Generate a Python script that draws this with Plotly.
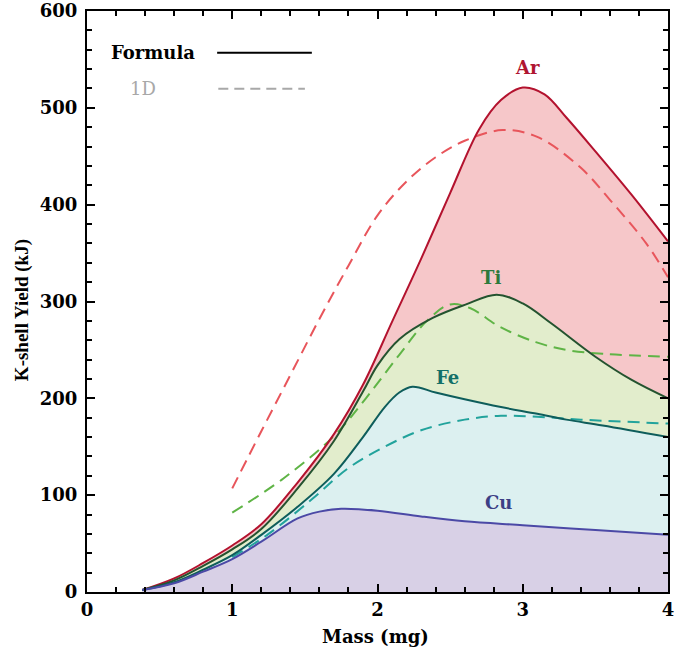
import plotly.graph_objects as go

# ---------------- data ----------------
mass_ar = [0.38, 0.6, 0.8, 1.0, 1.2, 1.45, 1.7, 1.9, 2.1, 2.3, 2.5, 2.7, 2.85, 3.0, 3.15, 3.3, 3.5, 3.75, 4.0]
ar_formula = [2, 14, 30, 48, 70, 113, 163, 214, 279, 344, 412, 478, 508, 521, 514, 490, 455, 410, 362]

mass_ti = [0.38, 0.6, 0.8, 1.0, 1.2, 1.45, 1.7, 1.9, 2.0, 2.15, 2.38, 2.61, 2.82, 3.0, 3.2, 3.5, 3.75, 4.0]
ti_formula = [2, 12, 27, 44, 65, 107, 156, 207, 234, 261, 283, 297, 307, 298, 277, 243, 219, 200]

mass_fe = [0.38, 0.6, 0.8, 1.0, 1.2, 1.45, 1.7, 1.9, 2.05, 2.15, 2.24, 2.4, 2.6, 2.85, 3.1, 3.3, 3.55, 4.0]
fe_formula = [2, 10, 23, 38, 59, 88, 122, 160, 191, 206, 212, 206, 199, 191, 184, 178, 172, 160]

mass_cu = [0.38, 0.6, 0.8, 1.0, 1.2, 1.45, 1.6, 1.75, 2.0, 2.3, 2.6, 3.0, 3.5, 4.0]
cu_formula = [2, 9, 21, 34, 52, 76, 83, 86, 84, 78, 73, 69, 64, 59]

mass_ar_1d = [1.0, 1.2, 1.4, 1.6, 1.8, 2.0, 2.2, 2.4, 2.6, 2.86, 3.1, 3.4, 3.6, 3.85, 4.0]
ar_1d = [107, 166, 224, 282, 337, 389, 424, 449, 466, 477, 470, 438, 405, 360, 325]

mass_ti_1d = [1.0, 1.35, 1.7, 1.92, 2.15, 2.34, 2.5, 2.64, 2.84, 3.09, 3.3, 3.55, 4.0]
ti_1d = [82, 117, 161, 200, 245, 280, 297, 293, 274, 258, 250, 246, 243]

mass_fe_1d = [1.0, 1.25, 1.55, 1.8, 2.05, 2.3, 2.6, 2.85, 3.1, 3.4, 4.0]
fe_1d = [36, 60, 96, 128, 150, 167, 178, 182, 181, 178, 174]

element_labels = ["Ar", "Ti", "Fe", "Cu"]
label_x = [3.03, 2.78, 2.48, 2.83]
label_y = [542, 325, 222, 92]

x_ticks = [0, 1, 2, 3, 4]
y_ticks = [0, 100, 200, 300, 400, 500, 600]

# ---------------- styles ----------------
line_cols = {"Ar": "#b3122e", "Ti": "#24532f", "Fe": "#0e5d5b", "Cu": "#4b49a6"}
fill_cols = {"Ar": "#f6c7c9", "Ti": "#e2edcc", "Fe": "#dcf0f0", "Cu": "#d8d0e6"}
dash_cols = {"Ar": "#e8555b", "Ti": "#5fb446", "Fe": "#22a39c"}
label_cols = {"Ar": "#b01530", "Ti": "#2d7a3c", "Fe": "#137068", "Cu": "#3c3f85"}

formula = {
    "Ar": (mass_ar, ar_formula),
    "Ti": (mass_ti, ti_formula),
    "Fe": (mass_fe, fe_formula),
    "Cu": (mass_cu, cu_formula),
}
oned = {
    "Ar": (mass_ar_1d, ar_1d),
    "Ti": (mass_ti_1d, ti_1d),
    "Fe": (mass_fe_1d, fe_1d),
}

fig = go.Figure()

# filled areas (each to zero, drawn back to front)
for el in ["Ar", "Ti", "Fe", "Cu"]:
    xs, ys = formula[el]
    fig.add_trace(go.Scatter(x=xs, y=ys, mode="lines", fill="tozeroy",
                             fillcolor=fill_cols[el],
                             line=dict(width=0, shape="spline", smoothing=1.0),
                             showlegend=False, hoverinfo="skip"))

# 1D dashed lines
for el in ["Ar", "Ti", "Fe"]:
    xs, ys = oned[el]
    fig.add_trace(go.Scatter(x=xs, y=ys, mode="lines",
                             line=dict(color=dash_cols[el], width=2, dash="12px,7px",
                                       shape="spline", smoothing=1.0),
                             showlegend=False))

# formula solid lines
for el in ["Ar", "Ti", "Fe", "Cu"]:
    xs, ys = formula[el]
    fig.add_trace(go.Scatter(x=xs, y=ys, mode="lines",
                             line=dict(color=line_cols[el], width=2,
                                       shape="spline", smoothing=1.0),
                             showlegend=False))

serif = "DejaVu Serif"

# element labels
for name, lx, ly in zip(element_labels, label_x, label_y):
    fig.add_annotation(x=lx, y=ly, text=name, showarrow=False,
                       font=dict(family=serif, size=18, color=label_cols[name], weight="bold"))

# legend (text then line sample)
fig.add_annotation(xref="paper", yref="paper", x=0.038, y=0.928, xanchor="left", yanchor="middle",
                   text="Formula", showarrow=False,
                   font=dict(family=serif, size=18, color="black", weight="bold"))
fig.add_annotation(xref="paper", yref="paper", x=0.070, y=0.866, xanchor="left", yanchor="middle",
                   text="1D", showarrow=False,
                   font=dict(family=serif, size=18, color="#a8a8a8"))
fig.add_shape(type="line", xref="paper", yref="paper", x0=0.224, x1=0.387, y0=0.928, y1=0.928,
              line=dict(color="black", width=2))
fig.add_shape(type="line", xref="paper", yref="paper", x0=0.226, x1=0.375, y0=0.866, y1=0.866,
              line=dict(color="#a8a8a8", width=2, dash="10px,6px"))

# axis titles
fig.add_annotation(xref="paper", yref="paper", x=0.497, y=-0.077, xanchor="center", yanchor="middle",
                   text="Mass (mg)", showarrow=False,
                   font=dict(family=serif, size=18, color="black", weight="bold"))
fig.add_annotation(xref="paper", yref="paper", x=-0.112, y=0.485, xanchor="center", yanchor="middle",
                   text="K-shell Yield (kJ)", textangle=-90, showarrow=False,
                   font=dict(family="Liberation Serif", size=19, color="black", weight="bold"))

axis_common = dict(showgrid=False, zeroline=False, showline=True, linecolor="black", linewidth=2,
                   mirror="ticks", ticks="inside", ticklen=8, tickwidth=2, tickcolor="black",
                   automargin=False,
                   tickfont=dict(family=serif, size=18, color="black", weight="bold"))

fig.update_xaxes(range=[0, 4], tickvals=x_ticks, ticktext=[str(v) for v in x_ticks],
                 minor=dict(ticks="inside", dtick=0.2, ticklen=5, tickwidth=1.5, tickcolor="black"),
                 **axis_common)
fig.update_yaxes(range=[0, 600], tickvals=y_ticks, ticktext=[str(v) for v in y_ticks],
                 minor=dict(ticks="inside", dtick=20, ticklen=5, tickwidth=1.5, tickcolor="black"),
                 ticklabelstandoff=4,
                 **axis_common)

fig.update_layout(width=678, height=654, margin=dict(l=87, r=10, t=11, b=62),
                  paper_bgcolor="white", plot_bgcolor="white", showlegend=False)

fig.write_html("out.html")
